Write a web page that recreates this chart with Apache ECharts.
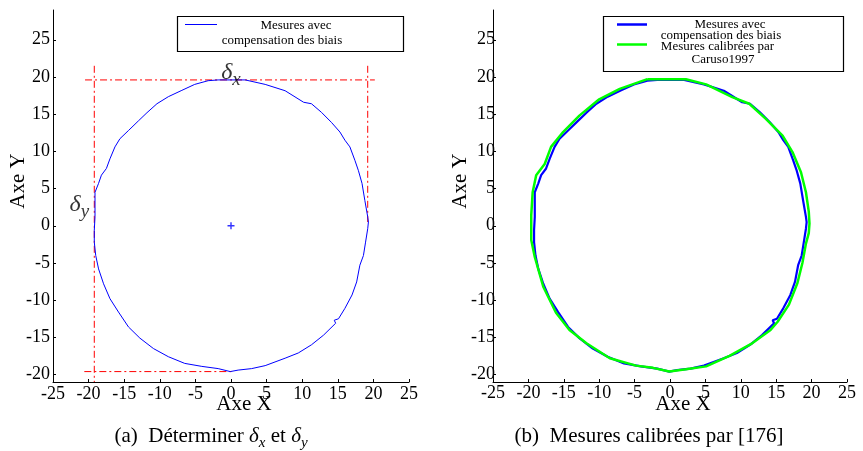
<!DOCTYPE html>
<html><head><meta charset="utf-8">
<script src="https://cdn.jsdelivr.net/npm/echarts@6/dist/echarts.min.js"></script>
<style>html,body{margin:0;padding:0;background:#fff}#c{width:863px;height:451px}</style>
</head><body><div id="c"></div>
<script>
// ---- data ----
const xTicks = [-25, -20, -15, -10, -5, 0, 5, 10, 15, 20, 25];
const yTicks = [-20, -15, -10, -5, 0, 5, 10, 15, 20, 25];

// Measurements with bias compensation (blue)
const blueMeasures = [
  [-1.8, 19.6], [2.0, 19.6], [4.8, 19.0], [7.6, 18.15], [10.2, 16.6], [11.3, 16.4], [12.7, 15.25],
  [14.1, 13.9], [15.3, 12.6], [16.0, 11.5], [16.7, 10.6], [17.4, 8.8], [17.9, 7.4], [18.4, 5.7],
  [18.8, 3.4], [19.2, 1.2], [19.3, 0.5], [19.2, -0.4], [18.9, -2.2], [18.6, -4.0], [18.1, -5.3],
  [17.65, -7.55], [17.0, -9.3], [16.0, -11.1], [15.1, -12.5], [14.5, -12.7], [14.7, -13.1],
  [13.0, -14.7], [11.3, -16.0], [9.45, -17.1], [7.6, -17.8], [4.8, -18.8], [2.9, -19.2],
  [1.0, -19.4], [-0.1, -19.6], [-1.8, -19.2], [-4.1, -18.9], [-6.5, -18.5], [-8.8, -17.6],
  [-10.9, -16.5], [-12.8, -15.1], [-14.4, -13.6], [-15.8, -11.6], [-17.0, -9.8], [-17.9, -7.8],
  [-18.6, -5.8], [-19.0, -4.0], [-19.2, -2.2], [-19.2, -0.6], [-19.1, 1.2], [-19.1, 4.5],
  [-18.6, 5.7], [-18.2, 6.8], [-17.5, 7.7], [-17.0, 9.0], [-16.3, 10.6], [-15.6, 11.7],
  [-14.4, 12.8], [-13.0, 14.1], [-11.8, 15.2], [-10.4, 16.4], [-8.8, 17.35], [-6.9, 18.2],
  [-5.1, 19.0], [-3.2, 19.5], [-1.8, 19.6]
];

// Measurements calibrated by Caruso1997 (green)
const greenCalibrated = [
  [-3.2, 19.7], [2.25, 19.7], [5.1, 19.0], [8.8, 17.3], [11.2, 16.4], [13.5, 14.4], [15.9, 12.1],
  [17.3, 9.9], [18.5, 7.2], [19.2, 4.5], [19.6, 1.9], [19.7, 0.3], [19.6, -1.0], [19.2, -2.4],
  [18.7, -5.0], [18.0, -7.7], [16.8, -10.6], [15.2, -12.9], [14.2, -14.0], [11.6, -15.8],
  [8.4, -17.5], [5.1, -18.9], [2.25, -19.3], [-0.1, -19.6], [-2.4, -19.1], [-4.8, -18.8],
  [-8.5, -17.8], [-11.8, -15.8], [-14.2, -14.0], [-16.1, -11.7], [-17.9, -8.2], [-19.1, -4.2],
  [-19.6, -1.9], [-19.6, -0.6], [-19.6, 1.4], [-19.4, 4.5], [-18.9, 6.8], [-17.7, 8.3],
  [-16.8, 10.6], [-15.1, 12.6], [-12.8, 14.8], [-10.0, 17.0], [-7.1, 18.4], [-3.2, 19.7]
];

const centerPoint = [[0, 0]];

// delta bound lines (red dash-dot)
const redVertLeft = [[-19.2, 21.5], [-19.2, -21]];
const redVertRight = [[19.2, 21.5], [19.2, 0.5]];
const redTop = [[-20.5, 19.6], [20.2, 19.6]];
const redBottom = [[-20.6, -19.6], [0.3, -19.6]];

const deltaXLabelPos = [[0, 20.3]];
const deltaYLabelPos = [[-21.3, 2.5]];

const nameBlue = 'Mesures avec compensation des biais';
const nameGreen = 'Mesures calibrées par Caruso1997';

// ---- chart ----
const FF = 'Liberation Serif';
const chart = echarts.init(document.getElementById('c'));

function xAxisCfg(gi, labelMargin) {
  return {
    gridIndex: gi, type: 'value', min: -25, max: 25, interval: 5,
    axisLine: { show: true, onZero: false, lineStyle: { color: '#000', width: 1 } },
    axisTick: { show: true, inside: true, length: 3, lineStyle: { color: '#000' } },
    axisLabel: { color: '#000', fontFamily: FF, fontSize: 18, margin: labelMargin, showMinLabel: true, showMaxLabel: true },
    splitLine: { show: false },
    name: 'Axe X', nameLocation: 'middle', nameGap: 12, nameMoveOverlap: false,
    nameTextStyle: { color: '#000', fontFamily: FF, fontSize: 21, padding: [0, 0, 0, 26] }
  };
}
function yAxisCfg(gi, labelMargin, nameGap) {
  return {
    gridIndex: gi, type: 'value', min: -21, max: 29,
    axisLine: { show: true, onZero: false, lineStyle: { color: '#000', width: 1 } },
    axisTick: { show: true, inside: true, length: 3, customValues: yTicks, lineStyle: { color: '#000' } },
    axisLabel: { color: '#000', fontFamily: FF, fontSize: 18, margin: labelMargin, customValues: yTicks },
    splitLine: { show: false },
    name: 'Axe Y', nameLocation: 'middle', nameGap: nameGap, nameMoveOverlap: false,
    nameTextStyle: { color: '#000', fontFamily: FF, fontSize: 21, padding: [0, 0, 0, 30] }
  };
}

const redStyle = { color: '#ff0000', width: 1, type: [7, 3, 2, 3] };
function redLine(data) {
  return { type: 'line', xAxisIndex: 0, yAxisIndex: 0, data: data, symbol: 'none',
    lineStyle: redStyle, silent: true, z: 1 };
}

const deltaRich = {
  d: { fontFamily: FF, fontStyle: 'italic', fontSize: 24, color: '#000', padding: [0, 0, 5, 0], verticalAlign: 'bottom' },
  s: { fontFamily: FF, fontStyle: 'italic', fontSize: 19, color: '#000', verticalAlign: 'bottom' }
};

const capRich = {
  n: { fontFamily: FF, fontSize: 21, color: '#000', padding: [0, 0, 4, 0], verticalAlign: 'bottom' },
  d: { fontFamily: FF, fontSize: 21, fontStyle: 'italic', color: '#000', padding: [0, 0, 4, 0], verticalAlign: 'bottom' },
  s: { fontFamily: FF, fontSize: 15, fontStyle: 'italic', color: '#000', verticalAlign: 'bottom' }
};

const legTxt = (x, y, t) => ({ type: 'text', x: x, y: y, silent: true,
  style: { text: t, fill: '#000', font: '13px "Liberation Serif"', align: 'center', verticalAlign: 'middle' } });

chart.setOption({
  animation: false,
  backgroundColor: '#fff',
  grid: [
    { left: 53, top: 10, width: 356, height: 372 },
    { left: 493, top: 10, width: 354, height: 372 }
  ],
  xAxis: [xAxisCfg(0, 3), xAxisCfg(1, 2)],
  yAxis: [yAxisCfg(0, 3, 24), yAxisCfg(1, -2, 22)],
  series: [
    redLine(redVertLeft), redLine(redVertRight), redLine(redTop), redLine(redBottom),
    { name: nameBlue, type: 'line', xAxisIndex: 0, yAxisIndex: 0, data: blueMeasures, symbol: 'none',
      lineStyle: { color: '#0000ff', width: 1 }, z: 3 },
    { type: 'scatter', xAxisIndex: 0, yAxisIndex: 0, data: centerPoint,
      symbol: 'path://M2,0H3V2H5V3H3V5H2V3H0V2H2Z', symbolSize: 7, itemStyle: { color: '#0000ff' }, z: 3 },
    { type: 'scatter', xAxisIndex: 0, yAxisIndex: 0, data: deltaXLabelPos, symbolSize: 0, silent: true, z: 5,
      label: { show: true, position: 'inside', formatter: '{d|δ}{s|x}', rich: deltaRich } },
    { type: 'scatter', xAxisIndex: 0, yAxisIndex: 0, data: deltaYLabelPos, symbolSize: 0, silent: true, z: 5,
      label: { show: true, position: 'inside', formatter: '{d|δ}{s|y}', rich: deltaRich } },
    { name: nameBlue, type: 'line', xAxisIndex: 1, yAxisIndex: 1, data: blueMeasures, symbol: 'none',
      lineStyle: { color: '#0000ff', width: 2.2 }, z: 3 },
    { name: nameGreen, type: 'line', xAxisIndex: 1, yAxisIndex: 1, data: greenCalibrated, symbol: 'none',
      lineStyle: { color: '#00ff00', width: 2.5 }, z: 4 }
  ],
  graphic: [
    // left legend
    { type: 'rect', shape: { x: 177.5, y: 16.5, width: 226, height: 35 }, silent: true,
      style: { fill: '#fff', stroke: '#000', lineWidth: 1.2 } },
    { type: 'line', shape: { x1: 185, y1: 24.5, x2: 217, y2: 24.5 }, silent: true,
      style: { stroke: '#0000ff', lineWidth: 1 } },
    legTxt(296, 26, 'Mesures avec'),
    legTxt(282, 41, 'compensation des biais'),
    // right legend
    { type: 'rect', shape: { x: 603.5, y: 16.5, width: 240, height: 55 }, silent: true,
      style: { fill: '#fff', stroke: '#000', lineWidth: 1.2 } },
    { type: 'line', shape: { x1: 617, y1: 24.5, x2: 647, y2: 24.5 }, silent: true,
      style: { stroke: '#0000ff', lineWidth: 2.5 } },
    { type: 'line', shape: { x1: 617, y1: 44.5, x2: 647, y2: 44.5 }, silent: true,
      style: { stroke: '#00ff00', lineWidth: 2.5 } },
    legTxt(730, 25, 'Mesures avec'),
    legTxt(721, 35.5, 'compensation des biais'),
    legTxt(717.5, 47, 'Mesures calibrées par'),
    legTxt(723, 59.5, 'Caruso1997'),
    // captions
    { type: 'text', x: 211, y: 438, silent: true,
      style: { text: '{n|(a)  Déterminer }{d|δ}{s|x}{n| et }{d|δ}{s|y}', rich: capRich, align: 'center', verticalAlign: 'middle' } },
    { type: 'text', x: 649, y: 438, silent: true,
      style: { text: '{n|(b)  Mesures calibrées par [176]}', rich: capRich, align: 'center', verticalAlign: 'middle' } }
  ]
});
</script>
</body></html>
